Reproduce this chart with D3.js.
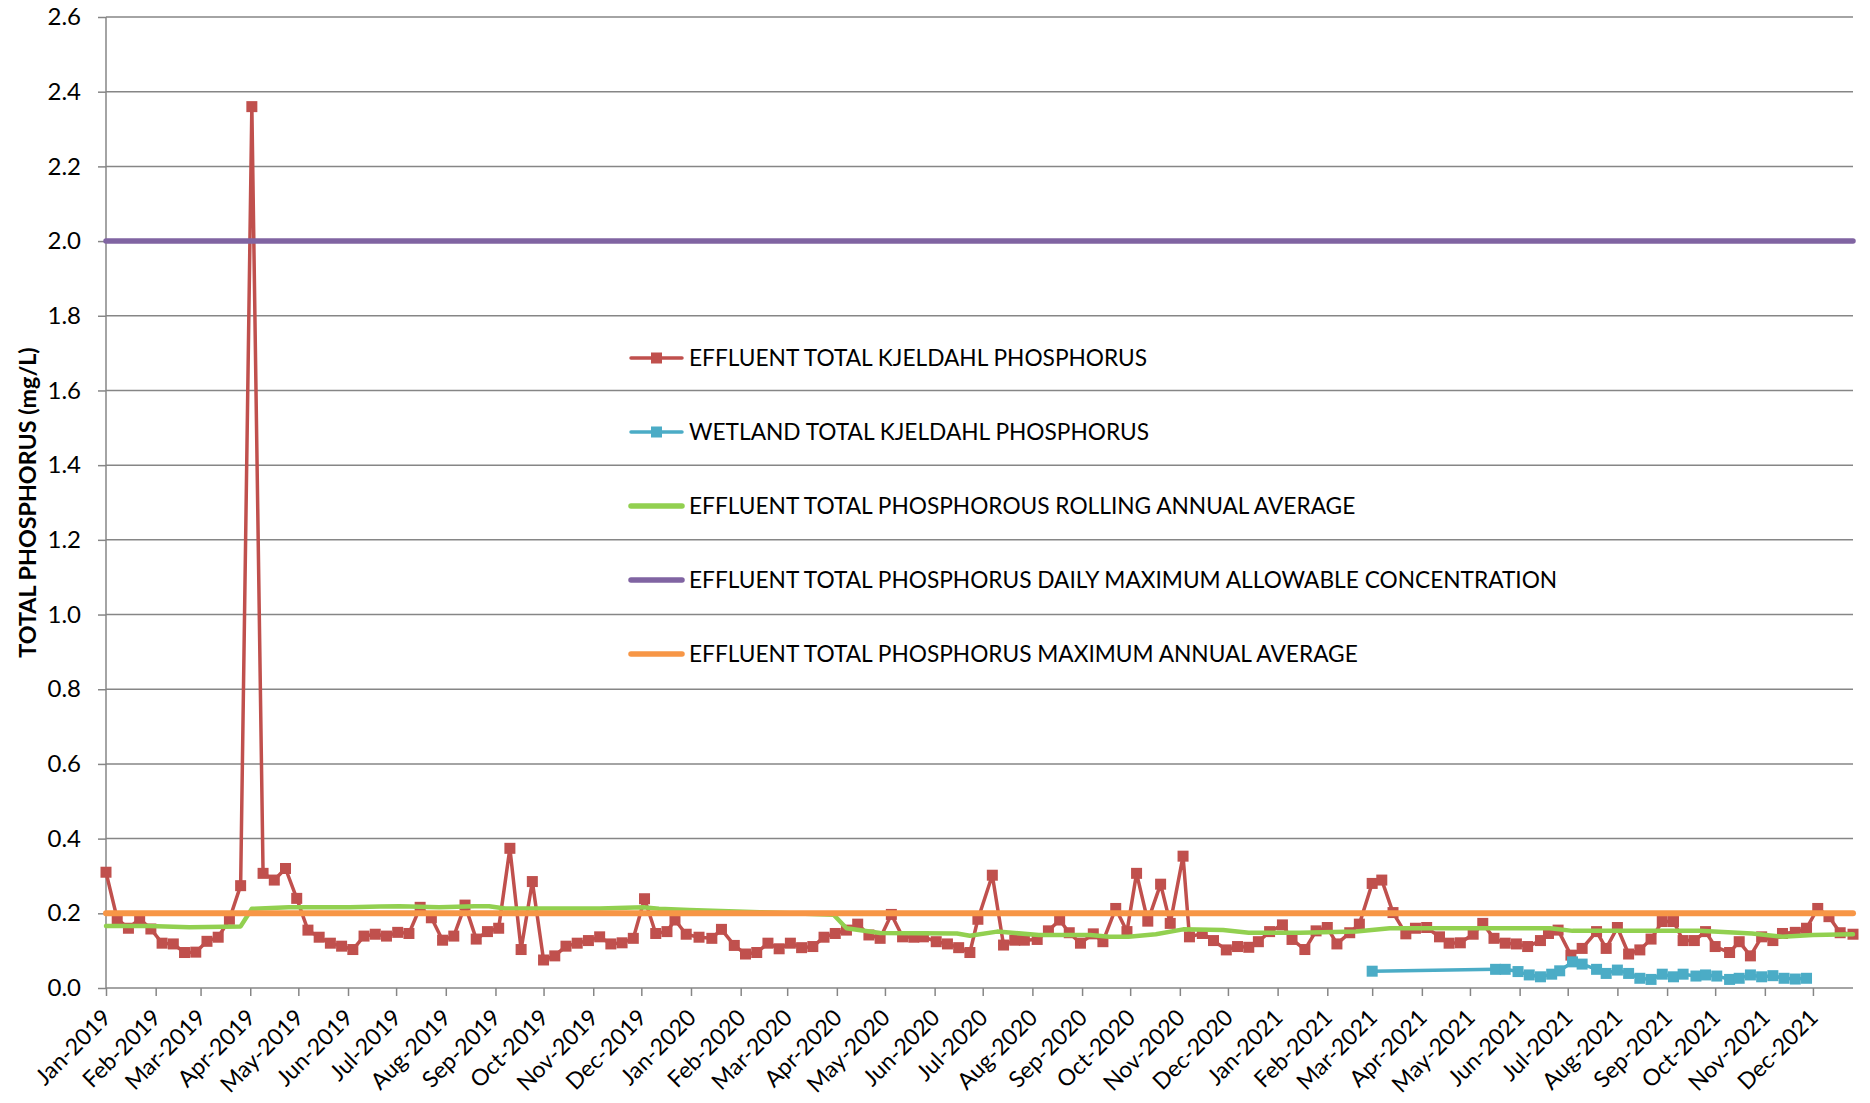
<!DOCTYPE html>
<html>
<head>
<meta charset="utf-8">
<script src="https://cdn.jsdelivr.net/npm/d3@7"></script>
<style>
  body { margin: 0; background: #fff; }
  text { font-family: Lato, "Open Sans", sans-serif; fill: #000; }
</style>
</head>
<body>
<svg id="chart" width="1870" height="1103"></svg>
<script>
// ---- data ----
var effluentDates = [
  '2019-01-01','2019-01-08','2019-01-15','2019-01-22','2019-01-29','2019-02-05','2019-02-12','2019-02-19','2019-02-26',
  '2019-03-05','2019-03-12','2019-03-19','2019-03-26','2019-04-02','2019-04-09','2019-04-16','2019-04-23','2019-04-30',
  '2019-05-07','2019-05-14','2019-05-21','2019-05-28','2019-06-04','2019-06-11','2019-06-18','2019-06-25',
  '2019-07-02','2019-07-09','2019-07-16','2019-07-23','2019-07-30','2019-08-06','2019-08-13','2019-08-20','2019-08-27',
  '2019-09-03','2019-09-10','2019-09-17','2019-09-24','2019-10-01','2019-10-08','2019-10-15','2019-10-22','2019-10-29',
  '2019-11-05','2019-11-12','2019-11-19','2019-11-26','2019-12-03','2019-12-10','2019-12-17','2019-12-22','2019-12-29',
  '2020-01-06','2020-01-14','2020-01-20','2020-01-28','2020-02-04','2020-02-11','2020-02-18','2020-02-25',
  '2020-03-03','2020-03-10','2020-03-17','2020-03-24','2020-03-31','2020-04-07','2020-04-14','2020-04-21','2020-04-28',
  '2020-05-05','2020-05-12','2020-05-19','2020-05-25','2020-06-02','2020-06-09','2020-06-16','2020-06-23','2020-06-28',
  '2020-07-07','2020-07-14','2020-07-21','2020-07-27','2020-08-04','2020-08-11','2020-08-18','2020-08-24','2020-08-31',
  '2020-09-08','2020-09-14','2020-09-22','2020-09-29','2020-10-05','2020-10-12','2020-10-20','2020-10-26',
  '2020-11-03','2020-11-07','2020-11-15','2020-11-22','2020-11-30','2020-12-07','2020-12-14','2020-12-20','2020-12-27',
  '2021-01-04','2021-01-10','2021-01-18','2021-01-25','2021-02-01','2021-02-07','2021-02-15','2021-02-21',
  '2021-03-01','2021-03-07','2021-03-14','2021-03-22','2021-03-28','2021-04-04','2021-04-12','2021-04-18','2021-04-25',
  '2021-05-03','2021-05-09','2021-05-16','2021-05-23','2021-05-30','2021-06-06','2021-06-14','2021-06-19','2021-06-25',
  '2021-07-03','2021-07-10','2021-07-19','2021-07-25','2021-08-01','2021-08-08','2021-08-15','2021-08-22','2021-08-29',
  '2021-09-05','2021-09-11','2021-09-18','2021-09-25','2021-10-01','2021-10-10','2021-10-16','2021-10-23','2021-10-30',
  '2021-11-06','2021-11-12','2021-11-20','2021-11-27','2021-12-04','2021-12-11','2021-12-18','2021-12-26'
];
var effluentTP = [
  0.31, 0.185, 0.16, 0.185, 0.158, 0.12, 0.118, 0.095, 0.096,
  0.125, 0.136, 0.184, 0.274, 2.36, 0.307, 0.289, 0.32, 0.24,
  0.155, 0.136, 0.12, 0.112, 0.103, 0.139, 0.144, 0.139,
  0.149, 0.146, 0.216, 0.188, 0.128, 0.139, 0.222, 0.131, 0.151,
  0.16, 0.374, 0.103, 0.285, 0.075, 0.086, 0.112, 0.12, 0.127,
  0.137, 0.118, 0.121, 0.133, 0.239, 0.146, 0.151, 0.182, 0.144,
  0.136, 0.133, 0.157, 0.114, 0.091, 0.095, 0.12, 0.105,
  0.12, 0.108, 0.111, 0.136, 0.146, 0.155, 0.171, 0.142, 0.133,
  0.197, 0.137, 0.136, 0.137, 0.124, 0.118, 0.108, 0.095, 0.184,
  0.302, 0.115, 0.128, 0.128, 0.13, 0.153, 0.182, 0.148, 0.12,
  0.145, 0.124, 0.213, 0.151, 0.307, 0.179, 0.278, 0.173,
  0.353, 0.137, 0.146, 0.127, 0.102, 0.111, 0.109, 0.124, 0.151,
  0.169, 0.13, 0.103, 0.153, 0.162, 0.118, 0.148, 0.171,
  0.28, 0.289, 0.202, 0.145, 0.16, 0.162, 0.137, 0.12, 0.121,
  0.144, 0.173, 0.133, 0.12, 0.118, 0.111, 0.127, 0.146, 0.155,
  0.088, 0.106, 0.151, 0.106, 0.162, 0.091, 0.102, 0.131, 0.178,
  0.178, 0.127, 0.127, 0.151, 0.111, 0.095, 0.124, 0.086, 0.137,
  0.127, 0.146, 0.149, 0.16, 0.213, 0.191, 0.148, 0.144
];

var wetlandDates = [
  '2021-03-01','2021-05-17','2021-05-23','2021-05-31','2021-06-07','2021-06-14','2021-06-21','2021-06-26',
  '2021-07-04','2021-07-10','2021-07-19','2021-07-25','2021-08-01','2021-08-08','2021-08-15','2021-08-22','2021-08-29',
  '2021-09-05','2021-09-11','2021-09-19','2021-09-25','2021-10-02','2021-10-10','2021-10-16','2021-10-23','2021-10-30',
  '2021-11-06','2021-11-13','2021-11-20','2021-11-27'
];
var wetlandTP = [
  0.045, 0.05, 0.05, 0.044, 0.035, 0.03, 0.037, 0.046,
  0.07, 0.064, 0.05, 0.039, 0.048, 0.039, 0.026, 0.023, 0.037,
  0.03, 0.037, 0.032, 0.035, 0.032, 0.023, 0.026, 0.035, 0.03,
  0.033, 0.026, 0.024, 0.026
];

var rollingDates = [
  '2019-01-01','2019-01-28','2019-02-22','2019-03-26','2019-04-02','2019-04-25','2019-06-02','2019-06-21','2019-07-03',
  '2019-07-28','2019-08-19','2019-08-28','2019-09-07','2019-11-05','2019-12-02','2019-12-12','2019-12-31',
  '2020-02-13','2020-03-30','2020-04-07','2020-04-28','2020-06-15','2020-06-23','2020-07-10','2020-08-05',
  '2020-09-06','2020-09-18','2020-09-30','2020-10-17','2020-11-03','2020-11-28','2020-12-14',
  '2021-01-15','2021-02-19','2021-03-12','2021-05-13','2021-06-20','2021-07-04','2021-09-21','2021-10-24',
  '2021-11-12','2021-12-01','2021-12-26'
];
var rollingAvg = [
  0.166, 0.166, 0.163, 0.165, 0.212, 0.216, 0.216, 0.218, 0.219,
  0.216, 0.219, 0.219, 0.213, 0.213, 0.216, 0.212, 0.209,
  0.203, 0.196, 0.16, 0.147, 0.146, 0.14, 0.151, 0.142,
  0.142, 0.137, 0.137, 0.144, 0.157, 0.155, 0.148,
  0.148, 0.151, 0.16, 0.16, 0.16, 0.153, 0.153, 0.146,
  0.137, 0.142, 0.144
];

var dailyMaxLimit = 2.0;
var annualMaxLimit = 0.2;

var yTicks = [0, 0.2, 0.4, 0.6, 0.8, 1.0, 1.2, 1.4, 1.6, 1.8, 2.0, 2.2, 2.4, 2.6];
var yTitle = 'TOTAL PHOSPHORUS (mg/L)';
var legendLabels = [
  'EFFLUENT TOTAL KJELDAHL PHOSPHORUS',
  'WETLAND TOTAL KJELDAHL PHOSPHORUS',
  'EFFLUENT TOTAL PHOSPHOROUS ROLLING ANNUAL AVERAGE',
  'EFFLUENT TOTAL PHOSPHORUS DAILY MAXIMUM ALLOWABLE CONCENTRATION',
  'EFFLUENT TOTAL PHOSPHORUS MAXIMUM ANNUAL AVERAGE'
];

// ---- chart ----
var colors = ['#c0504d', '#4bacc6', '#92d050', '#8064a2', '#f79646'];
var gridColor = '#868686';
var markerSize = 11;

var svg = d3.select('#chart');
var margin = {top: 17, right: 17, bottom: 115, left: 106};
var width = 1870 - margin.left - margin.right;
var height = 1103 - margin.top - margin.bottom;
var g = svg.append('g').attr('transform', 'translate(' + margin.left + ',' + margin.top + ')');

var parse = d3.timeParse('%Y-%m-%d');
var zip = function(dates, values) {
  return dates.map(function(d, i) { return {date: parse(d), value: values[i]}; });
};
var effluent = zip(effluentDates, effluentTP);
var wetland = zip(wetlandDates, wetlandTP);
var rolling = zip(rollingDates, rollingAvg);

var x = d3.scaleTime().domain(d3.extent(effluent, function(d) { return d.date; })).range([0, width]);
var y = d3.scaleLinear().domain([0, 2.6]).range([height, 0]);

var dailyMax = x.domain().map(function(d) { return {date: d, value: dailyMaxLimit}; });
var annualMax = x.domain().map(function(d) { return {date: d, value: annualMaxLimit}; });

//gridlines
g.append('g').attr('class', 'grid')
  .selectAll('line').data(yTicks.slice(1)).enter().append('line')
  .attr('x1', 0).attr('x2', width)
  .attr('y1', function(d) { return y(d); }).attr('y2', function(d) { return y(d); })
  .attr('stroke', gridColor).attr('stroke-width', 1.5);

//axes
var yAxis = d3.axisLeft(y).tickValues(yTicks).tickFormat(d3.format('.1f')).tickSize(8).tickPadding(17);
var yG = g.append('g').attr('class', 'y-axis').call(yAxis);
yG.selectAll('path, line').attr('stroke', gridColor).attr('stroke-width', 1.5);
yG.select('.domain').attr('d', 'M0,' + height + 'V0');
yG.selectAll('text').style('font-size', '24px');

var xAxis = d3.axisBottom(x).ticks(d3.timeMonth.every(1)).tickFormat(d3.timeFormat('%b-%Y')).tickSize(8);
var xG = g.append('g').attr('class', 'x-axis').attr('transform', 'translate(0,' + height + ')').call(xAxis);
xG.selectAll('path, line').attr('stroke', gridColor).attr('stroke-width', 1.5);
xG.select('.domain').attr('d', 'M0,0H' + width);
xG.selectAll('text')
  .style('font-size', '23px')
  .attr('text-anchor', 'end')
  .attr('y', 0).attr('dy', 0)
  .attr('transform', 'translate(6,31) rotate(-45)');

svg.append('text')
  .attr('transform', 'translate(27,' + (margin.top + height / 2) + ') rotate(-90)')
  .attr('text-anchor', 'middle')
  .attr('dominant-baseline', 'central')
  .style('font-size', '23.3px').style('font-weight', 'bold')
  .text(yTitle);

//series
var line = d3.line()
  .x(function(d) { return x(d.date); })
  .y(function(d) { return y(d.value); });

var plotLine = function(data, color, w) {
  g.append('path').datum(data)
    .attr('d', line)
    .attr('fill', 'none')
    .attr('stroke', color)
    .attr('stroke-width', w)
    .attr('stroke-linejoin', 'round')
    .attr('stroke-linecap', 'round');
};
var plotMarkers = function(data, color) {
  g.append('g').selectAll('rect').data(data).enter().append('rect')
    .attr('x', function(d) { return x(d.date) - markerSize / 2; })
    .attr('y', function(d) { return y(d.value) - markerSize / 2; })
    .attr('width', markerSize).attr('height', markerSize)
    .attr('fill', color);
};

plotLine(effluent, colors[0], 3.5);
plotMarkers(effluent, colors[0]);
plotLine(wetland, colors[1], 3.5);
plotMarkers(wetland, colors[1]);
plotLine(rolling, colors[2], 4.5);
plotLine(dailyMax, colors[3], 5.5);
plotLine(annualMax, colors[4], 6);

//legend
var legend = svg.append('g').attr('transform', 'translate(629,358)');
var item = legend.selectAll('g').data(legendLabels).enter().append('g')
  .attr('transform', function(d, i) { return 'translate(0,' + (i * 74) + ')'; });
item.append('line')
  .attr('x1', 2).attr('x2', 53).attr('y1', 0).attr('y2', 0)
  .attr('stroke', function(d, i) { return colors[i]; })
  .attr('stroke-width', function(d, i) { return i < 2 ? 3.5 : 5.5; })
  .attr('stroke-linecap', 'round');
item.filter(function(d, i) { return i < 2; }).append('rect')
  .attr('x', 27.5 - markerSize / 2).attr('y', -markerSize / 2)
  .attr('width', markerSize).attr('height', markerSize)
  .attr('fill', function(d, i) { return colors[i]; });
item.append('text')
  .attr('x', 60).attr('y', 0).attr('dy', '0.36em')
  .style('font-size', '22.7px')
  .text(function(d) { return d; });
</script>
</body>
</html>
